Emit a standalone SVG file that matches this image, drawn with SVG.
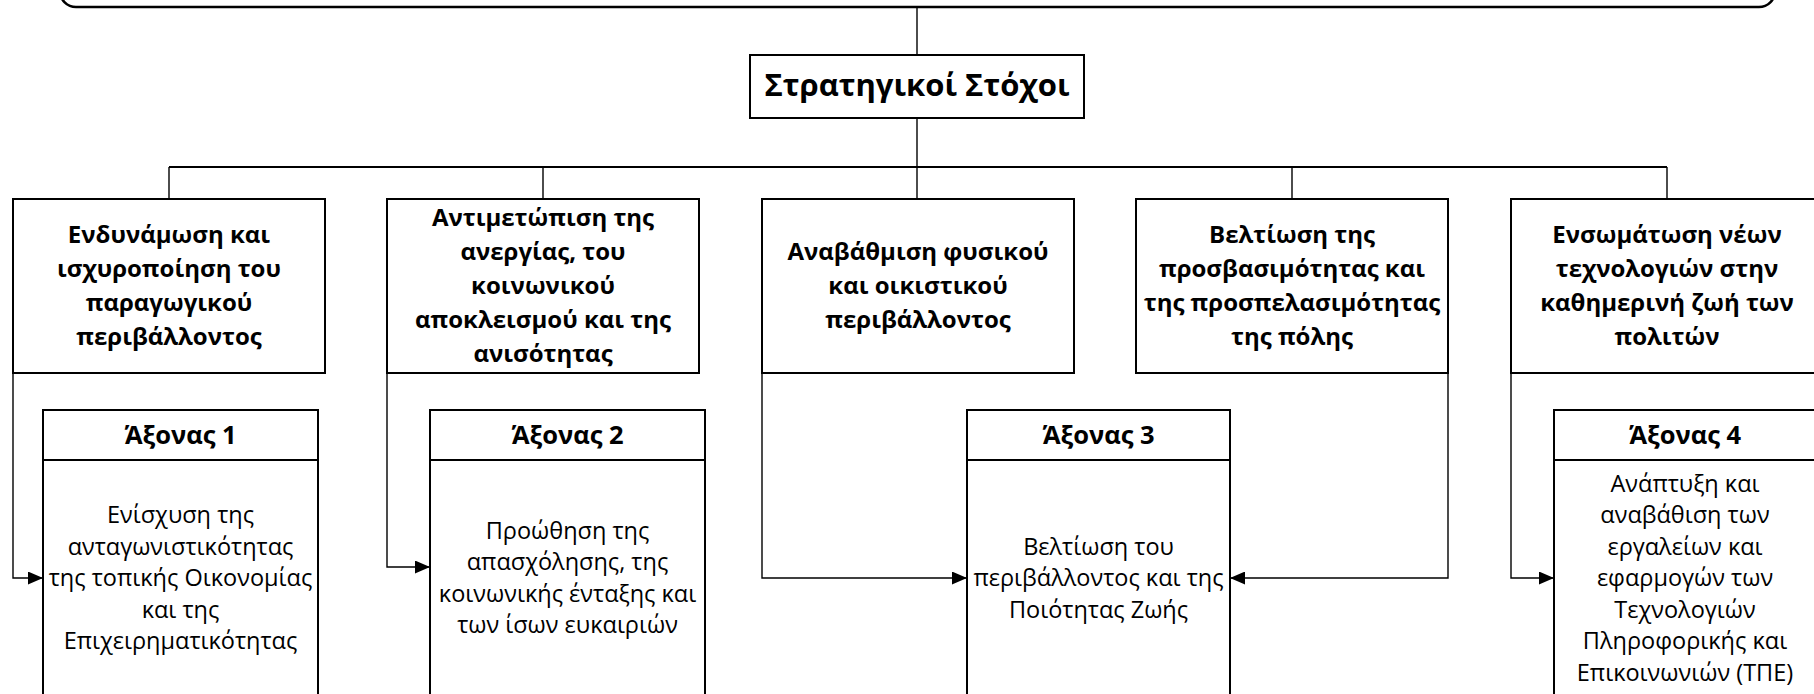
<svg xmlns="http://www.w3.org/2000/svg" width="1814" height="694" viewBox="0 0 1814 694">
<style>
.bg{fill:#ffffff}
.box{fill:#ffffff;stroke:#000000;stroke-width:2}
.top{fill:#ffffff;stroke:#000000;stroke-width:2.6}
.div{stroke:#000000;stroke-width:2;fill:none}
.con{stroke:#000000;stroke-width:1.4;fill:none}
.bus{stroke:#000000;stroke-width:1.8;fill:none}
text{font-family:"Open Sans","Noto Sans","DejaVu Sans",sans-serif;fill:#000000;text-anchor:middle}
.title{font-size:31px;font-weight:bold}
.goal{font-size:24px;font-weight:bold}
.head{font-size:25.5px;font-weight:bold}
.body{font-size:23.5px}
</style>
<defs>
<marker id="arr" viewBox="0 0 15 13" refX="15" refY="6.5" markerWidth="15" markerHeight="13" markerUnits="userSpaceOnUse" orient="auto">
<path d="M0,0 L15,6.5 L0,13 z" fill="#000000"/>
</marker>
</defs>
<rect class="bg" x="0" y="0" width="1814" height="694"/>

<g id="connectors">
<path class="con" d="M917,7 V55"/>
<path class="con" d="M917,118 V167"/>
<path class="bus" d="M169,167 H1667"/>
<path class="con" d="M169,167 V199"/>
<path class="con" d="M543,167 V199"/>
<path class="con" d="M917,167 V199"/>
<path class="con" d="M1292,167 V199"/>
<path class="con" d="M1667,167 V199"/>
<path class="con" d="M13,373 V578 H43" marker-end="url(#arr)"/>
<path class="con" d="M387,373 V567 H430" marker-end="url(#arr)"/>
<path class="con" d="M762,373 V578 H967" marker-end="url(#arr)"/>
<path class="con" d="M1448,373 V578 H1230" marker-end="url(#arr)"/>
<path class="con" d="M1511,373 V578 H1554" marker-end="url(#arr)"/>
</g>

<g id="vision">
<path class="top" d="M60,-30 V-9 A16,16 0 0 0 76,7 H1759 A16,16 0 0 0 1775,-9 V-30"/>
</g>

<g id="strategic-goals">
<rect class="box" x="750" y="55" width="334" height="63"/>
<text class="title" x="917" y="96">Στρατηγικοί Στόχοι</text>
</g>

<g id="goal-1">
<rect class="box" x="13" y="199" width="312" height="174"/>
<text class="goal"><tspan x="169" y="243">Ενδυνάμωση και</tspan><tspan x="169" y="277">ισχυροποίηση του</tspan><tspan x="169" y="311">παραγωγικού</tspan><tspan x="169" y="345">περιβάλλοντος</tspan></text>
</g>

<g id="goal-2">
<rect class="box" x="387" y="199" width="312" height="174"/>
<text class="goal"><tspan x="543" y="226">Αντιμετώπιση της</tspan><tspan x="543" y="260">ανεργίας, του</tspan><tspan x="543" y="294">κοινωνικού</tspan><tspan x="543" y="328">αποκλεισμού και της</tspan><tspan x="543" y="362">ανισότητας</tspan></text>
</g>

<g id="goal-3">
<rect class="box" x="762" y="199" width="312" height="174"/>
<text class="goal"><tspan x="918" y="260">Αναβάθμιση φυσικού</tspan><tspan x="918" y="294">και οικιστικού</tspan><tspan x="918" y="328">περιβάλλοντος</tspan></text>
</g>

<g id="goal-4">
<rect class="box" x="1136" y="199" width="312" height="174"/>
<text class="goal"><tspan x="1292" y="243">Βελτίωση της</tspan><tspan x="1292" y="277">προσβασιμότητας και</tspan><tspan x="1292" y="311">της προσπελασιμότητας</tspan><tspan x="1292" y="345">της πόλης</tspan></text>
</g>

<g id="goal-5">
<rect class="box" x="1511" y="199" width="312" height="174"/>
<text class="goal"><tspan x="1667" y="243">Ενσωμάτωση νέων</tspan><tspan x="1667" y="277">τεχνολογιών στην</tspan><tspan x="1667" y="311">καθημερινή ζωή των</tspan><tspan x="1667" y="345">πολιτών</tspan></text>
</g>

<g id="axis-1">
<rect class="box" x="43" y="410" width="275" height="300"/>
<path class="div" d="M43,460 H318"/>
<text class="head" x="180.5" y="444">Άξονας 1</text>
<text class="body"><tspan x="180.5" y="523">Ενίσχυση της</tspan><tspan x="180.5" y="554.5">ανταγωνιστικότητας</tspan><tspan x="180.5" y="586">της τοπικής Οικονομίας</tspan><tspan x="180.5" y="617.5">και της</tspan><tspan x="180.5" y="649">Επιχειρηματικότητας</tspan></text>
</g>

<g id="axis-2">
<rect class="box" x="430" y="410" width="275" height="300"/>
<path class="div" d="M430,460 H705"/>
<text class="head" x="567.5" y="444">Άξονας 2</text>
<text class="body"><tspan x="567.5" y="538.8">Προώθηση της</tspan><tspan x="567.5" y="570.3">απασχόλησης, της</tspan><tspan x="567.5" y="601.8">κοινωνικής ένταξης και</tspan><tspan x="567.5" y="633.3">των ίσων ευκαιριών</tspan></text>
</g>

<g id="axis-3">
<rect class="box" x="967" y="410" width="263" height="300"/>
<path class="div" d="M967,460 H1230"/>
<text class="head" x="1098.5" y="444">Άξονας 3</text>
<text class="body"><tspan x="1098.5" y="554.5">Βελτίωση του</tspan><tspan x="1098.5" y="586">περιβάλλοντος και της</tspan><tspan x="1098.5" y="617.5">Ποιότητας Ζωής</tspan></text>
</g>

<g id="axis-4">
<rect class="box" x="1554" y="410" width="263" height="300"/>
<path class="div" d="M1554,460 H1817"/>
<text class="head" x="1685" y="444">Άξονας 4</text>
<text class="body"><tspan x="1685" y="491.5">Ανάπτυξη και</tspan><tspan x="1685" y="523">αναβάθιση των</tspan><tspan x="1685" y="554.5">εργαλείων και</tspan><tspan x="1685" y="586">εφαρμογών των</tspan><tspan x="1685" y="617.5">Τεχνολογιών</tspan><tspan x="1685" y="649">Πληροφορικής και</tspan><tspan x="1685" y="680.5">Επικοινωνιών (ΤΠΕ)</tspan></text>
</g>
</svg>
